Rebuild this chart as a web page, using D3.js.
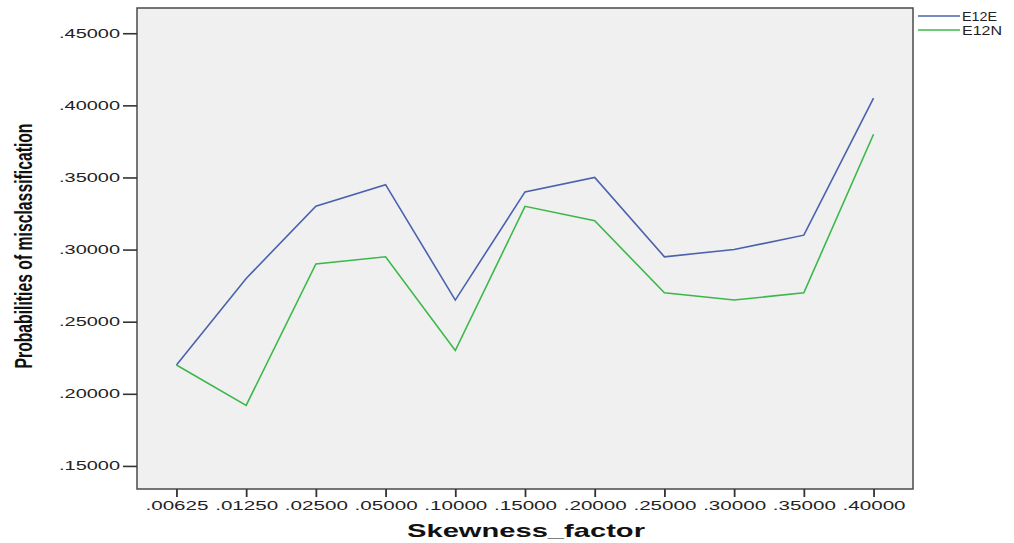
<!DOCTYPE html>
<html><head><meta charset="utf-8">
<script src="https://cdn.jsdelivr.net/npm/d3@7"></script>
<style>body{margin:0;background:#fff}svg{display:block}</style>
</head><body>
<svg id="c" width="1014" height="543"></svg>
<script>
const categories = [".00625",".01250",".02500",".05000",".10000",".15000",".20000",".25000",".30000",".35000",".40000"];
const e12e = [0.220,0.280,0.330,0.345,0.265,0.340,0.350,0.295,0.300,0.310,0.405];
const e12n = [0.220,0.192,0.290,0.295,0.230,0.330,0.320,0.270,0.265,0.270,0.380];
const yTicks = [0.15,0.20,0.25,0.30,0.35,0.40,0.45];
const seriesNames = ["E12E","E12N"];
const colors = ["#4a62ad","#3cb84a"];

const svg = d3.select("#c");
const L=137, R=913, T=8, B=489;
const x = d3.scalePoint().domain(categories).range([L,R]).padding(0.566);
const y = d3.scaleLinear().domain([0.134,0.4675]).range([B,T]);

svg.append("rect").attr("x",L).attr("y",T).attr("width",R-L).attr("height",B-T)
  .attr("fill","#f0f0f0").attr("stroke","#4a4a4a").attr("stroke-width",1.5);

const fmt = v => d3.format(".5f")(v).replace(/^0/,"");

// y axis
const ya = svg.append("g").attr("transform",`translate(${L},0)`)
  .call(d3.axisLeft(y).tickValues(yTicks).tickSize(14).tickPadding(3).tickFormat(fmt));
ya.select(".domain").remove();
ya.selectAll(".tick line").attr("stroke","#333").attr("stroke-width",1.6);
ya.selectAll(".tick text").attr("fill","#222").style("font-family","Liberation Sans, Arial, sans-serif")
  .style("font-size","12px").attr("textLength",61).attr("lengthAdjust","spacingAndGlyphs");

// x axis
const xa = svg.append("g").attr("transform",`translate(0,${B})`)
  .call(d3.axisBottom(x).tickSize(8).tickPadding(4));
xa.select(".domain").remove();
xa.selectAll(".tick line").attr("stroke","#333").attr("stroke-width",1.8);
xa.selectAll(".tick text").attr("fill","#222").style("font-family","Liberation Sans, Arial, sans-serif")
  .style("font-size","12px").attr("textLength",63).attr("lengthAdjust","spacingAndGlyphs");

// lines
const line = d3.line().x((d,i)=>x(categories[i])).y(d=>y(d));
[e12e,e12n].forEach((s,k)=>{
  svg.append("path").datum(s).attr("d",line).attr("fill","none")
    .attr("stroke",colors[k]).attr("stroke-width",1.6);
});

// legend
seriesNames.forEach((n,k)=>{
  const yy = 16 + k*14;
  svg.append("line").attr("x1",918).attr("x2",960).attr("y1",yy).attr("y2",yy)
    .attr("stroke",colors[k]).attr("stroke-width",1.4);
  svg.append("text").attr("x",962).attr("y",yy+4.5).text(n)
    .style("font-family","Liberation Sans, Arial, sans-serif").style("font-size","13px")
    .attr("fill","#222").attr("textLength",n==="E12E"?35:40).attr("lengthAdjust","spacingAndGlyphs");
});

// axis titles
svg.append("text").attr("transform","translate(32,246) rotate(-90)").attr("text-anchor","middle")
  .text("Probabilities of misclassification")
  .style("font-family","Liberation Sans Narrow, Arial Narrow, Liberation Sans, sans-serif")
  .style("font-weight","bold").style("font-size","24px").attr("fill","#111")
  .attr("textLength",245).attr("lengthAdjust","spacingAndGlyphs");
svg.append("text").attr("x",526).attr("y",537).attr("text-anchor","middle")
  .text("Skewness_factor")
  .style("font-family","Liberation Sans, Arial, sans-serif")
  .style("font-weight","bold").style("font-size","19px").attr("fill","#111")
  .attr("textLength",238).attr("lengthAdjust","spacingAndGlyphs");
</script>
</body></html>
